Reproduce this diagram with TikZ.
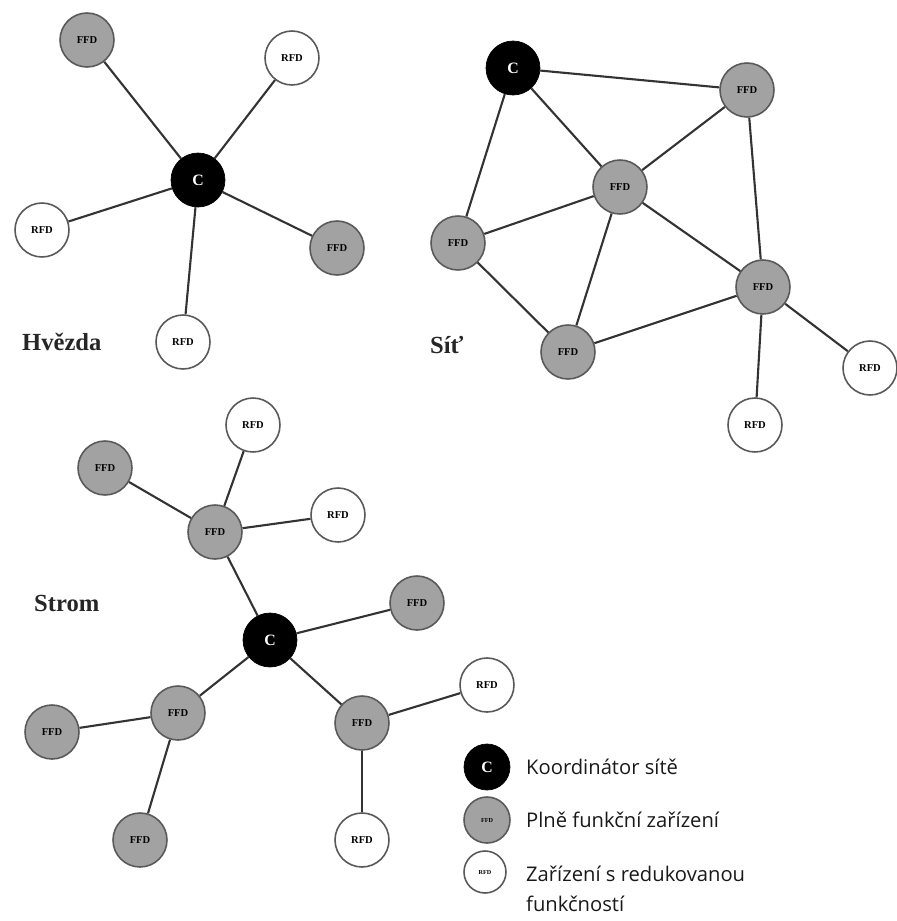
\documentclass[tikz,border=0pt]{standalone}
\usepackage{fontspec}
\setmainfont{Liberation Serif}
\newfontfamily\legendfont{Open Sans}
\usepackage{xcolor}
\definecolor{cffd}{HTML}{A2A2A2}
\definecolor{cedge}{HTML}{333333}

\begin{document}
\begin{tikzpicture}[x=0.02cm, y=-0.02cm]
    \tikzset{
        coord/.style={circle, draw=black, fill=black, minimum size=1.08cm, inner sep=0pt, font=\fontsize{9}{9}\selectfont\bfseries, text=white},
        ffd/.style={circle, draw=black!65, line width=0.9pt, fill=cffd, minimum size=1.08cm, inner sep=0pt, font=\fontsize{6}{6}\selectfont\bfseries},
        rfd/.style={circle, draw=black!65, line width=0.9pt, fill=white, minimum size=1.08cm, inner sep=0pt, font=\fontsize{6}{6}\selectfont\bfseries},
        toplabel/.style={anchor=west, font=\fontsize{14}{14}\selectfont\bfseries, text=black!85},
        legendtext/.style={anchor=west, align=left, font=\legendfont\fontsize{11.5}{17}\selectfont, text=black!90},
        link/.style={draw=cedge, line width=1.2pt}
    }
    \useasboundingbox (0,0) rectangle (897,921);

    % Hvezda
    \node[coord] (s_c) at (198,180) {C};
    \node[ffd] (s_f1) at (87,40) {FFD};
    \node[rfd] (s_r1) at (292,58) {RFD};
    \node[rfd] (s_r2) at (42,230) {RFD};
    \node[ffd] (s_f2) at (337,248) {FFD};
    \node[rfd] (s_r3) at (183,342) {RFD};
    \node[toplabel] (s_label) at (16,342) {Hvězda};

    \path[link] (s_c) -- (s_f1);
    \path[link] (s_c) -- (s_r1);
    \path[link] (s_c) -- (s_r2);
    \path[link] (s_c) -- (s_f2);
    \path[link] (s_c) -- (s_r3);

    % Sit
    \node[coord] (m_c) at (513,68) {C};
    \node[ffd] (m_f1) at (747,90) {FFD};
    \node[ffd] (m_f2) at (620,187) {FFD};
    \node[ffd] (m_f3) at (458,243) {FFD};
    \node[ffd] (m_f4) at (763,287) {FFD};
    \node[ffd] (m_f5) at (568,352) {FFD};
    \node[rfd] (m_r1) at (870,368) {RFD};
    \node[rfd] (m_r2) at (755,425) {RFD};
    \node[toplabel] (m_label) at (424,345) {Síť};

    \path[link] (m_c) -- (m_f1);
    \path[link] (m_c) -- (m_f2);
    \path[link] (m_c) -- (m_f3);
    \path[link] (m_f1) -- (m_f2);
    \path[link] (m_f1) -- (m_f4);
    \path[link] (m_f2) -- (m_f3);
    \path[link] (m_f2) -- (m_f5);
    \path[link] (m_f2) -- (m_f4);
    \path[link] (m_f3) -- (m_f5);
    \path[link] (m_f5) -- (m_f4);
    \path[link] (m_f4) -- (m_r1);
    \path[link] (m_f4) -- (m_r2);

    % Strom
    \node[coord] (t_c) at (270,640) {C};
    \node[ffd] (t_f1) at (215,532) {FFD};
    \node[rfd] (t_r1) at (253,425) {RFD};
    \node[ffd] (t_f2) at (105,468) {FFD};
    \node[rfd] (t_r2) at (338,515) {RFD};
    \node[ffd] (t_f3) at (417,603) {FFD};
    \node[ffd] (t_f4) at (178,713) {FFD};
    \node[ffd] (t_f5) at (52,732) {FFD};
    \node[ffd] (t_f6) at (140,840) {FFD};
    \node[ffd] (t_f7) at (362,723) {FFD};
    \node[rfd] (t_r3) at (487,685) {RFD};
    \node[rfd] (t_r4) at (362,840) {RFD};
    \node[toplabel] (t_label) at (28,603) {Strom};

    \path[link] (t_c) -- (t_f1);
    \path[link] (t_f1) -- (t_r1);
    \path[link] (t_f1) -- (t_f2);
    \path[link] (t_f1) -- (t_r2);
    \path[link] (t_c) -- (t_f3);
    \path[link] (t_c) -- (t_f4);
    \path[link] (t_f4) -- (t_f5);
    \path[link] (t_f4) -- (t_f6);
    \path[link] (t_c) -- (t_f7);
    \path[link] (t_f7) -- (t_r3);
    \path[link] (t_f7) -- (t_r4);

    % legenda
    \node[coord, minimum size=0.92cm] (key_c) at (487,767) {C};
    \node[ffd, minimum size=0.92cm, font=\fontsize{3.5}{4}\selectfont\bfseries] (key_f) at (487,820) {FFD};
    \node[rfd, minimum size=0.84cm, font=\fontsize{3.5}{4}\selectfont\bfseries] (key_r) at (485,872) {RFD};
    \node[legendtext] (key_ctext) at (520,767) {Koordinátor sítě};
    \node[legendtext] (key_ftext) at (520,820) {Plně funkční zařízení};
    \node[legendtext, anchor=north west] (key_rtext) at (520,860) {Zařízení s redukovanou\\funkčností};
\end{tikzpicture}
\end{document}
